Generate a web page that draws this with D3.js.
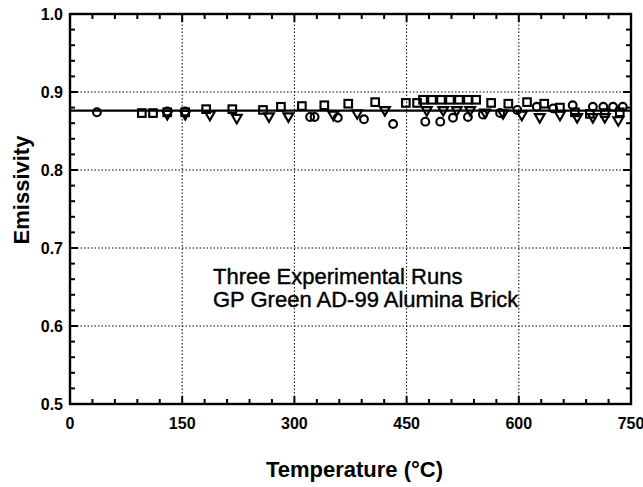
<!DOCTYPE html>
<html>
<head>
<meta charset="utf-8">
<script src="https://cdn.jsdelivr.net/npm/d3@7"></script>
<style>
  body { margin: 0; background: #fff; }
  svg text { font-family: "Liberation Sans", Arial, sans-serif; fill: #000; }
</style>
</head>
<body>
<svg id="chart" width="643" height="487"></svg>
<script>
// run with squares
var squareT = [96, 111, 130, 154, 182, 217, 258, 282, 310, 340, 372, 408, 449, 464, 472, 484, 496, 508, 520, 532, 543, 563, 586, 611, 634, 655, 675, 695, 715, 735];
var squareE = [0.873, 0.873, 0.874, 0.874, 0.878, 0.878, 0.877, 0.881, 0.882, 0.883, 0.885, 0.887, 0.886, 0.886, 0.890, 0.890, 0.890, 0.890, 0.890, 0.890, 0.890, 0.886, 0.885, 0.887, 0.885, 0.880, 0.874, 0.872, 0.873, 0.874];
// run with circles
var circleT = [36, 130, 154, 321, 327, 358, 393, 432, 475, 495, 512, 532, 552, 575, 598, 624, 646, 672, 699, 713, 726, 739];
var circleE = [0.874, 0.875, 0.875, 0.868, 0.868, 0.867, 0.865, 0.859, 0.862, 0.862, 0.867, 0.868, 0.871, 0.873, 0.877, 0.881, 0.879, 0.883, 0.881, 0.881, 0.881, 0.881];
// run with triangles
var triT = [130, 154, 187, 223, 266, 292, 352, 384, 421, 477, 499, 517, 535, 555, 579, 604, 628, 655, 678, 699, 715, 733];
var triE = [0.872, 0.872, 0.871, 0.867, 0.869, 0.869, 0.871, 0.873, 0.877, 0.877, 0.877, 0.877, 0.877, 0.874, 0.873, 0.871, 0.868, 0.871, 0.868, 0.868, 0.868, 0.864];
var meanE = 0.876;

var xTicks = [0, 150, 300, 450, 600, 750];
var yTicks = [0.5, 0.6, 0.7, 0.8, 0.9, 1.0];
var noteLines = ["Three Experimental Runs", "GP Green AD-99 Alumina Brick"];

var svg = d3.select("#chart");
var m = { left: 70, top: 14, right: 12, bottom: 83 };
var W = 643 - m.left - m.right, H = 487 - m.top - m.bottom;

var x = d3.scaleLinear().domain([0, 750]).range([m.left, m.left + W]);
var y = d3.scaleLinear().domain([0.5, 1.0]).range([m.top + H, m.top]);

// dotted grid
var grid = svg.append("g").attr("stroke", "#000").attr("stroke-width", 1).attr("stroke-dasharray", "1.5,2");
grid.selectAll(".gx").data(xTicks.slice(1, -1)).enter().append("line")
    .attr("x1", function (d) { return x(d); }).attr("x2", function (d) { return x(d); })
    .attr("y1", m.top).attr("y2", m.top + H);
grid.selectAll(".gy").data(yTicks.slice(1, -1)).enter().append("line")
    .attr("y1", function (d) { return y(d); }).attr("y2", function (d) { return y(d); })
    .attr("x1", m.left).attr("x2", m.left + W);

// inward ticks on all four sides
var minorX = d3.range(0, 751, 30), minorY = d3.range(0, 26).map(function (i) { return 0.5 + i * 0.02; });
function isMajorX(d) { return d % 150 === 0; }
function isMajorY(d) { return Math.abs(Math.round(d * 10) - d * 10) < 1e-6; }
var tk = svg.append("g").attr("stroke", "#000").attr("stroke-width", 2);
[m.top + H, m.top].forEach(function (yy, k) {
    var dir = k === 0 ? -1 : 1;
    tk.selectAll(null).data(minorX).enter().append("line")
        .attr("x1", function (d) { return x(d); }).attr("x2", function (d) { return x(d); })
        .attr("y1", yy).attr("y2", function (d) { return yy + dir * (isMajorX(d) ? 8 : 5); });
});
[m.left, m.left + W].forEach(function (xx, k) {
    var dir = k === 0 ? 1 : -1;
    tk.selectAll(null).data(minorY).enter().append("line")
        .attr("y1", function (d) { return y(d); }).attr("y2", function (d) { return y(d); })
        .attr("x1", xx).attr("x2", function (d) { return xx + dir * (isMajorY(d) ? 8 : 5); });
});

// frame
svg.append("rect").attr("x", m.left).attr("y", m.top).attr("width", W).attr("height", H)
    .attr("fill", "none").attr("stroke", "#000").attr("stroke-width", 2.4);

// tick labels
svg.selectAll(".xl").data(xTicks).enter().append("text")
    .attr("x", function (d) { return x(d); }).attr("y", m.top + H + 25)
    .attr("text-anchor", "middle").attr("font-size", 16).attr("font-weight", "bold")
    .text(function (d) { return d; });
svg.selectAll(".yl").data(yTicks).enter().append("text")
    .attr("x", m.left - 7).attr("y", function (d) { return y(d) + 6; })
    .attr("text-anchor", "end").attr("font-size", 16).attr("font-weight", "bold")
    .text(function (d) { return d.toFixed(1); });

// axis titles
svg.append("text").attr("transform", "translate(29,190) rotate(-90)")
    .attr("text-anchor", "middle").attr("font-size", 22).attr("font-weight", "bold").text("Emissivity");
svg.append("text").attr("x", m.left + W / 2 + 4).attr("y", 477)
    .attr("text-anchor", "middle").attr("font-size", 22).attr("font-weight", "bold").text("Temperature (°C)");

// note
svg.selectAll(".note").data(noteLines).enter().append("text")
    .attr("x", 213).attr("y", function (d, i) { return 284 + i * 23; })
    .attr("font-size", 22).attr("stroke", "#000").attr("stroke-width", 0.4)
    .text(function (d) { return d; });

// mean line
svg.append("line").attr("x1", m.left).attr("x2", m.left + W)
    .attr("y1", y(meanE)).attr("y2", y(meanE)).attr("stroke", "#000").attr("stroke-width", 2.2);

// markers
var mk = svg.append("g").attr("fill", "none").attr("stroke", "#000").attr("stroke-width", 2.1);
mk.selectAll(".sq").data(squareT).enter().append("rect")
    .attr("x", function (d) { return x(d) - 3.8; })
    .attr("y", function (d, i) { return y(squareE[i]) - 3.8; })
    .attr("width", 7.6).attr("height", 7.6);
mk.selectAll(".ci").data(circleT).enter().append("circle")
    .attr("cx", function (d) { return x(d); })
    .attr("cy", function (d, i) { return y(circleE[i]); })
    .attr("r", 3.9);
var tri = d3.symbol().type(d3.symbolTriangle).size(42);
mk.selectAll(".tr").data(triT).enter().append("path")
    .attr("d", tri)
    .attr("transform", function (d, i) { return "translate(" + x(d) + "," + y(triE[i]) + ") rotate(180)"; });
</script>
</body>
</html>
